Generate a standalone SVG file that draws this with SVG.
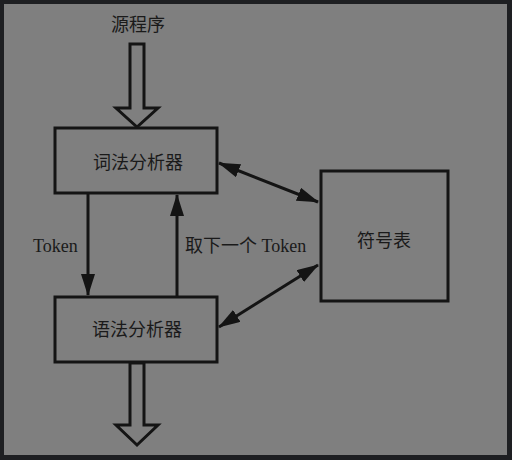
<svg xmlns="http://www.w3.org/2000/svg" width="512" height="460" viewBox="0 0 512 460">
<defs>
<style>
.box{fill:none;stroke:#141414;stroke-width:3}
.hollow{fill:#7f7f7f;stroke:#141414;stroke-width:3;stroke-linejoin:miter}
.ln{fill:none;stroke:#141414;stroke-width:3}
.cjk{font-family:"Liberation Serif","Noto Sans CJK SC",serif;font-size:18px;fill:#1a1a1a;text-anchor:middle}
.lat{font-family:"Liberation Serif","Noto Sans CJK SC",serif;font-size:18px;fill:#1a1a1a}
</style>
<marker id="ah" viewBox="0 0 22 14" refX="21" refY="7" markerWidth="22" markerHeight="14" markerUnits="userSpaceOnUse" orient="auto-start-reverse">
<path d="M0,0 L22,7 L0,14 Z" fill="#141414"/>
</marker>
</defs>
<rect x="0" y="0" width="512" height="460" fill="#1e1f22"/>
<rect x="4" y="4" width="503" height="451" fill="#7f7f7f"/>
<text x="138" y="31" class="cjk">源程序</text>
<g id="connectors">
<polygon class="hollow" points="130,44 144,44 144,108 158,108 137,127 116,108 130,108"/>
<polygon class="hollow" points="130,363 144,363 144,425 158,425 137,445 116,425 130,425"/>
<line class="ln" x1="88" y1="194" x2="88" y2="295" marker-end="url(#ah)"/>
<line class="ln" x1="177" y1="296" x2="177" y2="195" marker-end="url(#ah)"/>
<line class="ln" x1="219" y1="163" x2="318" y2="202" marker-start="url(#ah)" marker-end="url(#ah)"/>
<line class="ln" x1="318" y1="265" x2="219" y2="327" marker-start="url(#ah)" marker-end="url(#ah)"/>
<text x="33" y="252" class="lat">Token</text>
<text x="185" y="252" class="lat">取下一个 Token</text>
</g>
<g id="lexer">
<rect class="box" x="55" y="128" width="162" height="65"/>
<text x="138" y="169" class="cjk">词法分析器</text>
</g>
<g id="parser">
<rect class="box" x="55" y="297" width="162" height="65"/>
<text x="137" y="336" class="cjk">语法分析器</text>
</g>
<g id="symtab">
<rect class="box" x="321" y="171" width="127" height="130"/>
<text x="384" y="247" class="cjk">符号表</text>
</g>
</svg>
